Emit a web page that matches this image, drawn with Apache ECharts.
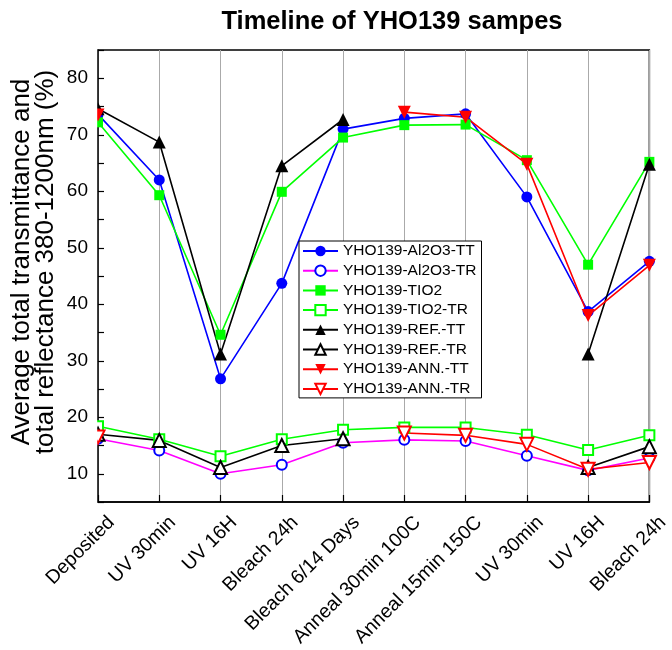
<!DOCTYPE html>
<html>
<head>
<meta charset="utf-8">
<script src="https://cdn.jsdelivr.net/npm/echarts@6/dist/echarts.min.js"></script>
<style>
  html, body { margin: 0; padding: 0; background: #fff; }
  #chart { width: 672px; height: 650px; }
</style>
</head>
<body>
<div id="chart"></div>
<script>
// Process steps along the timeline
const categories = ['Deposited', 'UV 30min', 'UV 16H', 'Bleach 24h', 'Bleach 6/14 Days',
  'Anneal 30min 100C', 'Anneal 15min 150C', 'UV 30min', 'UV 16H', 'Bleach 24h'];

// Average total transmittance (TT) and total reflectance (TR), 380-1200nm, in %
const al2o3TT = [73.6, 62.0, 26.8, 43.7, 71.0, 72.9, 73.7, 59.0, 38.7, 47.6];
const al2o3TR = [16.2, 14.1, 10.0, 11.6, 15.5, 16.0, 15.8, 13.2, 10.6, 12.8];
const tio2TT  = [72.2, 59.3, 34.6, 59.9, 69.5, 71.7, 71.8, 65.5, 47.0, 65.2];
const tio2TR  = [18.4, 16.1, 13.1, 16.1, 17.8, 18.2, 18.2, 16.9, 14.2, 16.8];
const refTT   = [74.6, 68.7, 31.2, 64.5, 72.7, null, null, null, 31.2, 64.8];
const refTR   = [17.0, 15.9, 11.1, 15.0, 16.2, null, null, null, 11.1, 14.8];
const annTT   = [73.5, null, null, null, null, 74.0, 73.1, 64.8, 38.0, 46.9];
const annTR   = [16.5, null, null, null, null, 17.2, 16.8, 15.2, 10.8, 12.0];

// Value axis: ticks every 5, labels every 10
const yTicks = { min: 5, max: 85, interval: 5, labelStep: 10 };

const BLUE = '#0000ff', MAGENTA = '#ff00ff', GREEN = '#00ff00', BLACK = '#000000', RED = '#ff0000';
const FONT = 'Liberation Sans, Arial, sans-serif';

// Plot frame (pixels)
const GRID = { left: 98, right: 15, top: 50, bottom: 148 };
const W = 672, H = 650;

function line(name, data, lineColor, markColor, symbol, size, rotate, filled) {
  return {
    name: name,
    type: 'line',
    data: data,
    connectNulls: false,
    showAllSymbol: true,
    symbol: symbol,
    symbolSize: size,
    symbolRotate: rotate,
    lineStyle: { color: lineColor, width: 1.6 },
    itemStyle: filled
      ? { color: markColor, borderColor: markColor, borderWidth: 0 }
      : { color: markColor, borderColor: markColor, borderWidth: 1.6 },
    emphasis: { disabled: true },
    animation: false
  };
}

const chart = echarts.init(document.getElementById('chart'), null, { renderer: 'canvas' });

chart.setOption({
  animation: false,
  backgroundColor: '#ffffff',
  title: {
    text: 'Timeline of YHO139 sampes',
    left: 387,
    top: 4,
    textAlign: 'center',
    textStyle: { fontFamily: FONT, fontWeight: 'bold', fontSize: 25.5, color: '#000' }
  },
  grid: {
    left: GRID.left, right: GRID.right, top: GRID.top, bottom: GRID.bottom,
    show: true, borderColor: '#000', borderWidth: 1.5, backgroundColor: 'transparent'
  },
  legend: {
    orient: 'vertical',
    left: 299,
    top: 241,
    padding: [2, 5, 1, 3],
    itemWidth: 35,
    itemHeight: 13,
    itemGap: 3.7,
    backgroundColor: '#fff',
    borderColor: '#000',
    borderWidth: 1,
    textStyle: { fontFamily: FONT, fontSize: 15.5, color: '#000', lineHeight: 16 },
    data: ['YHO139-Al2O3-TT', 'YHO139-Al2O3-TR', 'YHO139-TIO2', 'YHO139-TIO2-TR',
      'YHO139-REF.-TT', 'YHO139-REF.-TR', 'YHO139-ANN.-TT', 'YHO139-ANN.-TR']
  },
  xAxis: {
    type: 'category',
    data: categories,
    boundaryGap: false,
    axisLine: { show: true, lineStyle: { color: '#000', width: 1.5 } },
    axisTick: { show: true, inside: true, length: 7, alignWithLabel: true, lineStyle: { color: '#000', width: 1.2 } },
    splitLine: { show: true, lineStyle: { color: '#aaaaaa', width: 1 } },
    axisLabel: {
      interval: 0,
      rotate: 45,
      margin: 4,
      align: 'right',
      verticalAlign: 'top',
      padding: [9, 0, 0, 0],
      fontFamily: FONT,
      fontSize: 19.5,
      color: '#000'
    }
  },
  yAxis: {
    type: 'value',
    min: yTicks.min,
    max: yTicks.max,
    interval: yTicks.interval,
    axisLine: { show: true, lineStyle: { color: '#000', width: 1.5 } },
    axisTick: { show: true, inside: true, length: 6, lineStyle: { color: '#000', width: 1.2 } },
    splitLine: { show: false },
    axisLabel: {
      margin: 10,
      fontFamily: FONT,
      fontSize: 19,
      color: '#000',
      showMinLabel: true,
      showMaxLabel: true,
      formatter: function (v) { return (v % yTicks.labelStep === 0) ? String(v) : ''; }
    }
  },
  graphic: [
    // markers are clipped at the left and right edges of the plot frame
    {
      type: 'rect', z: 100, silent: true,
      shape: { x: GRID.left - 9, y: GRID.top - 10, width: 8.2, height: H - GRID.bottom - GRID.top + 20 },
      style: { fill: '#ffffff' }
    },
    {
      type: 'rect', z: 100, silent: true,
      shape: { x: W - GRID.right + 0.8, y: GRID.top - 10, width: GRID.right, height: H - GRID.bottom - GRID.top + 20 },
      style: { fill: '#ffffff' }
    },
    {
      type: 'text',
      x: 34,
      y: 262,
      rotation: Math.PI / 2,
      style: {
        text: 'Average total transmittance and\ntotal reflectance 380-1200nm (%)',
        fontFamily: FONT,
        fontSize: 26,
        lineHeight: 24,
        align: 'center',
        verticalAlign: 'middle',
        fill: '#000'
      }
    }
  ],
  series: [
    line('YHO139-Al2O3-TT', al2o3TT, BLUE, BLUE, 'circle', 11, 0, true),
    line('YHO139-Al2O3-TR', al2o3TR, MAGENTA, BLUE, 'emptyCircle', 10, 0, false),
    line('YHO139-TIO2', tio2TT, GREEN, GREEN, 'rect', 10, 0, true),
    line('YHO139-TIO2-TR', tio2TR, GREEN, GREEN, 'emptyRect', 10, 0, false),
    line('YHO139-REF.-TT', refTT, BLACK, BLACK, 'triangle', 13, 0, true),
    line('YHO139-REF.-TR', refTR, BLACK, BLACK, 'emptyTriangle', 13, 0, false),
    line('YHO139-ANN.-TT', annTT, RED, RED, 'triangle', 13, 180, true),
    line('YHO139-ANN.-TR', annTR, RED, RED, 'emptyTriangle', 13, 180, false)
  ]
});
</script>
</body>
</html>
